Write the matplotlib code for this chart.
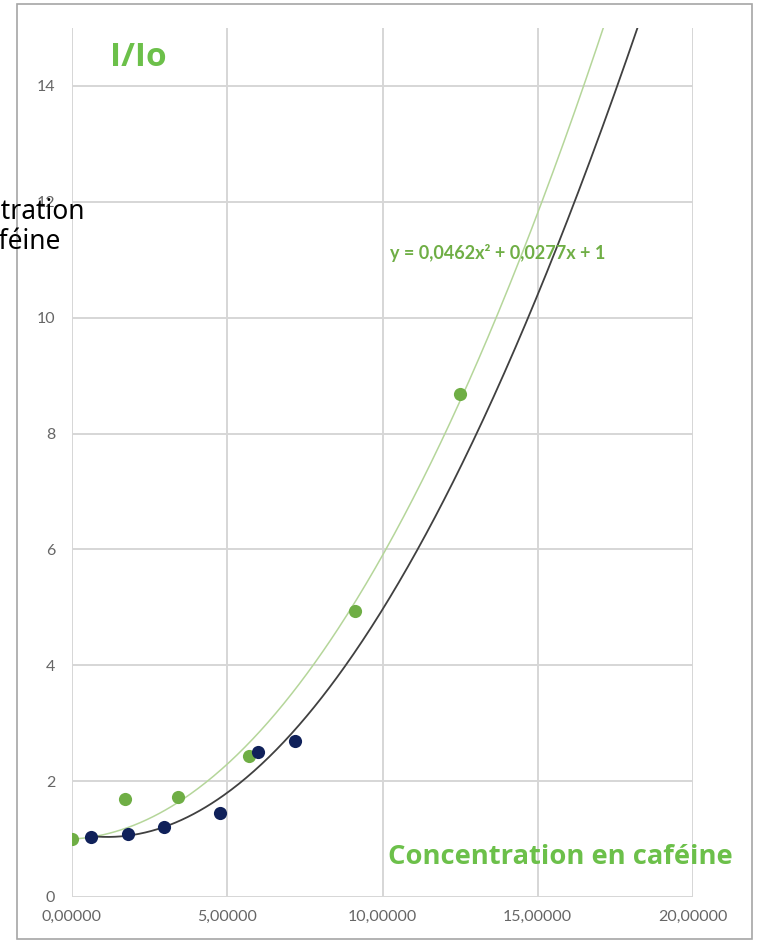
import numpy as np
import matplotlib.pyplot as plt
from matplotlib.patches import Rectangle

# ---- data ----
green_x = [0.0, 1.70, 3.41, 5.69, 9.10, 12.48]
green_y = [1.00, 1.69, 1.73, 2.44, 4.94, 8.69]
navy_x = [0.61, 1.80, 2.96, 4.76, 5.98, 7.17]
navy_y = [1.04, 1.09, 1.21, 1.45, 2.50, 2.69]

# trend lines (highest power first)
green_fit = [0.0462, 0.0277, 1.0]
navy_fit = [-0.00026, 0.05328, -0.1211, 1.106]

x_ticks = [0, 5, 10, 15, 20]
x_labels = ['0,00000', '5,00000', '10,00000', '15,00000', '20,00000']
y_ticks = [0, 2, 4, 6, 8, 10, 12, 14]

GREEN = '#6fae45'
NAVY = '#10215a'
TITLE_GREEN = '#6cc04a'

W, H = 759, 942
fig = plt.figure(figsize=(W / 100, H / 100), dpi=100)
fig.patch.set_facecolor('white')

# outer chart frame
fig.patches.append(Rectangle((17 / W, 1 - 939 / H), (752 - 17) / W, (939 - 4) / H,
                             transform=fig.transFigure, fill=False, ec='#a6a6a6', lw=1.2))

ax = fig.add_axes([72 / W, 45 / H, 621 / W, 869 / H])
ax.set_xlim(0, 20)
ax.set_ylim(0, 15)
for s in ax.spines.values():
    s.set_visible(False)
ax.set_xticks(x_ticks)
ax.set_xticklabels(x_labels)
ax.set_yticks(y_ticks)
ax.tick_params(length=0, labelsize=11.5, labelcolor='#666666', pad=12)
ax.tick_params(axis='x', pad=9)
for lab in ax.get_xticklabels() + ax.get_yticklabels():
    lab.set_family('Lato')
ax.grid(True, color='#d6d6d6', lw=1.4)
ax.set_axisbelow(True)

xg = np.linspace(green_x[0], 20, 400)
ax.plot(xg, np.polyval(green_fit, xg), color='#b5d69a', lw=1.1, zorder=2)
xn = np.linspace(navy_x[0], 20, 400)
ax.plot(xn, np.polyval(navy_fit, xn), color='#404040', lw=1.3, zorder=2)

ax.scatter(green_x, green_y, s=90, color=GREEN, zorder=3, linewidths=0)
ax.scatter(navy_x, navy_y, s=90, color=NAVY, zorder=3, linewidths=0)

ax.text(10.25, 11.12, 'y = 0,0462x² + 0,0277x + 1', color=GREEN, fontsize=13,
        fontweight='bold', family='Lato', ha='left', va='center')

# overlaid labels
fig.text(138 / W, 1 - 58 / H, 'I/Io', color=TITLE_GREEN, fontsize=24,
         fontweight='bold', family='Open Sans', ha='center', va='center')
fig.text(560 / W, 1 - 857 / H, 'Concentration en caféine', color=TITLE_GREEN,
         fontsize=19.7, fontweight='bold', family='Open Sans', ha='center', va='center')
fig.text(-3 / W, 1 - 227 / H, 'Concentration\nen caféine', color='black', fontsize=19,
         family='Noto Sans', ha='center', va='center', linespacing=1.05)

fig.savefig('out.png', dpi=100)
